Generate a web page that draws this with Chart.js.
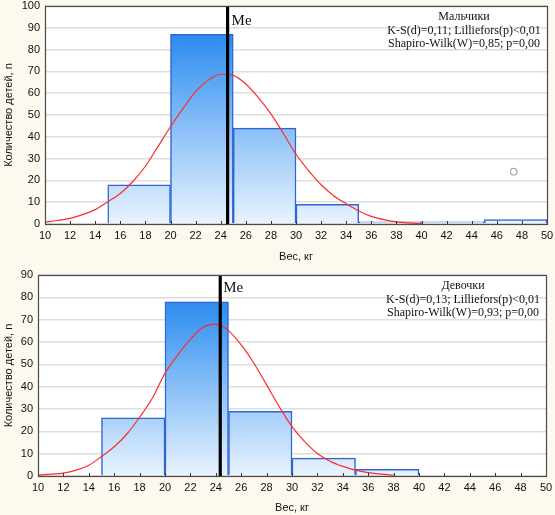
<!DOCTYPE html>
<html><head><meta charset="utf-8">
<script src="https://cdn.jsdelivr.net/npm/chart.js@4/dist/chart.umd.min.js"></script>
<style>
html,body{margin:0;padding:0;background:#FDF9EE;}
#wrap{position:relative;width:555px;height:515px;overflow:hidden;background:#FDF9EE;}
.box{position:absolute;left:0;width:555px;}
canvas{display:block;}
</style></head><body>
<div id="wrap">
<div class="box" style="top:0;height:265px"><canvas id="c1" width="555" height="265"></canvas></div>
<div class="box" style="top:265px;height:250px"><canvas id="c2" width="555" height="250"></canvas></div>
</div>
<script>
// ---- data ----
const binEdges = [10, 15, 20, 25, 30, 35, 40, 45, 50];
const binCenters = [17.5, 22.5, 27.5, 32.5, 37.5, 42.5, 47.5];
const boysCounts = [18, 87, 44, 9, 1, 1, 2];
const girlsCounts = [26, 78, 29, 8, 3];

const boysCurveX = [10,11,12,13,14,15,16,17,18,19,20,21,22,23,24,25,26,27,28,29,30,31,32,33,34,35,36,37,38,39,40];
const boysCurveY = [0.8,1.6,2.6,4.3,6.6,10.2,14.0,19.5,26.5,35.5,44.6,53.0,60.7,66.0,68.7,68.2,64.2,58.0,50.5,41.5,32.0,24.5,18.0,13.0,9.3,6.0,3.5,2.0,1.0,0.5,0.2];

const girlsCurveX = [10,11,12,13,14,15,16,17,18,19,20,21,22,23,24,25,26,27,28,29,30,31,32,33,34,35,36,37,38];
const girlsCurveY = [0.4,0.8,1.3,2.6,4.8,8.7,13.1,18.8,26.3,34.8,46.0,54.2,61.2,66.6,68.0,65.1,58.7,50.5,40.8,31.0,22.1,15.4,10.1,6.6,4.3,2.6,1.5,0.8,0.4];

const boysMedian = 24.55;
const girlsMedian = 24.35;
const boysOutlier = [47.35, 24];

const xTicks = [10,12,14,16,18,20,22,24,26,28,30,32,34,36,38,40,42,44,46,48,50];
const boysYTicks = [0,10,20,30,40,50,60,70,80,90,100];
const girlsYTicks = [0,10,20,30,40,50,60,70,80,90];

const boysStats = ['Мальчики', 'K-S(d)=0,11; Lilliefors(p)<0,01', 'Shapiro-Wilk(W)=0,85; p=0,00'];
const girlsStats = ['Девочки', 'K-S(d)=0,13; Lilliefors(p)<0,01', 'Shapiro-Wilk(W)=0,93; p=0,00'];
const medianLabel = 'Me';
const xTitle = 'Вес, кг';
const yTitle = 'Количество детей, n';

// ---- drawing ----
const decor = {
  id: 'decor',
  beforeDraw(chart) {
    const {ctx, chartArea: a} = chart;
    ctx.save();
    ctx.fillStyle = '#ffffff';
    ctx.fillRect(a.left, a.top, a.right - a.left, a.bottom - a.top);
    ctx.restore();
  },
  afterDraw(chart, args, opts) {
    const {ctx, chartArea: a, scales: {x}} = chart;
    ctx.save();
    ctx.strokeStyle = '#333';
    ctx.lineWidth = 1;
    x.ticks.forEach(t => {
      const px = Math.round(x.getPixelForValue(t.value)) + 0.5;
      ctx.beginPath(); ctx.moveTo(px, a.bottom); ctx.lineTo(px, a.bottom - 3); ctx.stroke();
    });
    ctx.strokeStyle = '#4a4a4a';
    ctx.lineWidth = 1.2;
    ctx.strokeRect(Math.round(a.left) + 0.5, Math.round(a.top) + 0.5, Math.round(a.right - a.left), Math.round(a.bottom - a.top));
    ctx.fillStyle = '#111';
    ctx.textBaseline = 'middle';
    ctx.textAlign = 'left';
    ctx.font = '15px "Liberation Serif"';
    ctx.fillText(medianLabel, x.getPixelForValue(opts.median) + opts.meDx, a.top + opts.meDy);
    ctx.font = '12px "Liberation Serif"';
    ctx.textAlign = 'center';
    opts.stats.forEach((s, i) => ctx.fillText(s, a.right - 83, a.top + opts.lineY[i]));
    ctx.restore();
  }
};

function barGradient(c) {
  const chart = c.chart;
  const a = chart.chartArea;
  if (!a) return '#88bbf5';
  const g = chart.ctx.createLinearGradient(0, a.bottom, 0, a.top);
  g.addColorStop(0, '#E9F4FE');
  g.addColorStop(1, '#0F7CEE');
  return g;
}

function makeChart(id, counts, curveX, curveY, median, yTicks, stats, outlier, pad, xAxisH, yAxisW, xTitlePad, meDy, meDx) {
  const yMax = yTicks[yTicks.length - 1];
  const datasets = [
    { type: 'line', data: [{x: median, y: 0}, {x: median, y: yMax}], borderColor: '#000', borderWidth: 3.2, pointRadius: 0, order: 0 },
    { type: 'line', data: curveX.map((v, i) => ({x: v, y: curveY[i]})), borderColor: '#FF2B2B', borderWidth: 1.2, pointRadius: 0, cubicInterpolationMode: 'monotone', fill: false, order: 1 },
    { type: 'bar', xAxisID: 'xb', data: counts.map((v, i) => ({x: binCenters[i], y: v})), backgroundColor: barGradient, borderColor: '#2F63D6', borderWidth: 1.5, borderSkipped: 'start', barPercentage: 1, categoryPercentage: 1, grouped: false, order: 3 }
  ];
  if (outlier) {
    datasets.splice(2, 0, { type: 'scatter', data: [{x: outlier[0], y: outlier[1]}], borderColor: '#aaaaaa', backgroundColor: 'rgba(0,0,0,0)', borderWidth: 1.2, pointRadius: 3.3, order: 2 });
  }
  const tickFont = {family: 'Liberation Sans', size: 11};
  return new Chart(document.getElementById(id), {
    type: 'bar',
    data: { datasets },
    options: {
      responsive: false,
      animation: false,
      events: [],
      layout: { padding: pad },
      plugins: {
        legend: {display: false},
        tooltip: {enabled: false},
        decor: { median, stats, lineY: [11, 24.5, 38], meDy, meDx }
      },
      scales: {
        x: {
          type: 'linear', min: 10, max: 50, offset: false,
          afterBuildTicks: s => { s.ticks = xTicks.map(v => ({value: v})); },
          afterFit: s => { s.height = xAxisH; s.paddingLeft = 0; s.paddingRight = 0; },
          grid: { display: false, drawTicks: false, offset: false },
          border: { display: false },
          ticks: { padding: 5, color: '#111', font: tickFont, maxRotation: 0, autoSkip: false },
          title: { display: true, text: xTitle, color: '#111', font: tickFont, padding: {top: 0, bottom: xTitlePad} }
        },
        xb: {
          type: 'linear', min: 10, max: 50, offset: false, display: false,
          afterBuildTicks: s => { s.ticks = binEdges.map(v => ({value: v})); },
          afterFit: s => { s.paddingLeft = 0; s.paddingRight = 0; },
          grid: { display: false, drawTicks: false, offset: false }
        },
        y: {
          min: 0, max: yMax,
          afterBuildTicks: s => { s.ticks = yTicks.map(v => ({value: v})); },
          afterFit: s => { s.width = yAxisW; s.paddingTop = 0; s.paddingBottom = 0; },
          grid: { color: '#dedede', lineWidth: 1.5, drawTicks: false },
          border: { display: false },
          ticks: { padding: 5, color: '#111', font: tickFont },
          title: { display: true, text: yTitle, color: '#111', font: tickFont, padding: {top: 2, bottom: 0} }
        }
      }
    },
    plugins: [decor]
  });
}

makeChart('c1', boysCounts, boysCurveX, boysCurveY, boysMedian, boysYTicks, boysStats, boysOutlier,
  {left: 0, right: 8, top: 6, bottom: 0}, 41, 45, 1, 15, 4);
makeChart('c2', girlsCounts, girlsCurveX, girlsCurveY, girlsMedian, girlsYTicks, girlsStats, null,
  {left: 0, right: 9, top: 10, bottom: 0}, 39, 38, 0, 13, 3);
</script>
</body></html>
